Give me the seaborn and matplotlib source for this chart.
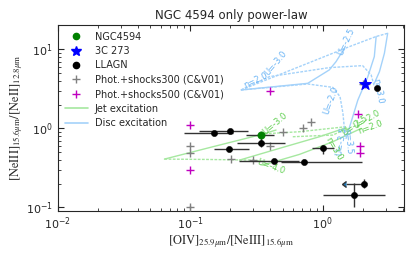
import matplotlib
matplotlib.use('Agg')
import matplotlib.pyplot as plt
from matplotlib.lines import Line2D
import seaborn as sns

# -------------------- Data --------------------

# NGC 4594 (green point, black x error)
ngc_x = [0.339]
ngc_y = [0.83]
ngc_xlo = [0.264]
ngc_xhi = [0.432]

# 3C 273 (blue star)
c3_x = [2.09]
c3_y = [3.6]
c3_xlo = [1.92]
c3_xhi = [2.29]
c3_ylo = [3.21]
c3_yhi = [3.97]

# LLAGN sample
llagn_x = [0.150, 0.198, 0.343, 0.196, 0.425, 0.728, 1.00, 2.57, 1.73]
llagn_y = [0.88, 0.925, 0.659, 0.547, 0.382, 0.371, 0.558, 3.21, 0.143]
llagn_xlo = [0.089, 0.117, 0.224, 0.152, 0.235, 0.485, 0.83, 2.57, 1.01]
llagn_xhi = [0.209, 0.272, 0.523, 0.277, 0.667, 1.98, 1.22, 2.57, 2.97]
llagn_ylo = [0.88, 0.925, 0.586, 0.547, 0.382, 0.371, 0.48, 3.21, 0.102]
llagn_yhi = [0.88, 0.925, 0.747, 0.547, 0.382, 0.371, 0.62, 3.21, 0.205]

# LLAGN with upper limit on x
lim_x = [2.06]
lim_y = [0.201]
lim_xerr = [0.56]
lim_ylo = [0.174]
lim_yhi = [0.226]

# Photoionisation + shocks models (Contini & Viegas 2001)
sh300_x = [0.1, 0.1, 0.1, 0.203, 0.30, 0.40, 0.505, 0.706, 0.82, 2.0]
sh300_y = [0.60, 0.49, 0.10, 0.406, 0.40, 0.60, 0.90, 1.02, 1.19, 3.6]
sh500_x = [0.1, 0.1, 0.40, 1.84, 1.90, 1.90]
sh500_y = [1.09, 0.30, 3.0, 1.50, 0.60, 0.49]

# Disc excitation grid: solid = constant n, dashed = constant U
disc_solid = [
    ([0.242, 0.770, 1.12, 1.26, 1.38, 1.46], [3.06, 3.71, 5.48, 6.98, 8.90, 10.0]),
    ([1.50, 1.84, 2.19, 2.45, 2.53], [0.747, 2.28, 4.51, 8.08, 14.5]),
    ([3.09, 2.92, 2.68, 2.45], [15.9, 8.90, 5.22, 3.71]),
]
disc_dashed = [
    ([0.242, 0.667, 1.59, 2.53, 3.09], [3.06, 6.04, 10.8, 14.5, 15.9]),
    ([0.242, 0.396, 1.12, 2.00, 2.32, 2.45], [3.06, 4.51, 5.86, 6.21, 4.73, 3.37]),
    ([0.242, 0.770, 1.19, 1.35, 1.42, 1.48], [3.06, 3.64, 3.30, 2.52, 1.55, 0.747]),
]
disc_labels = [
    ("n=2.0", 0.314, 4.09, 25),
    ("U=-3.0", 0.444, 6.65, 50),
    ("U=-2.5", 1.50, 12.5, 65),
    ("U=-2.0", 1.16, 2.28, 70),
    ("n=3.0", 2.63, 2.91, -80),
    ("U=-3.5", 1.37, 0.70, 80),
    ("n=3.5", 1.56, 0.68, -85),
]

# Jet excitation grid
jet_solid = [
    ([0.0638, 0.148, 0.339, 0.444], [0.409, 0.586, 0.831, 0.953]),
    ([0.235, 0.499, 0.944, 1.50], [0.397, 0.575, 0.784, 1.02]),
    ([0.352, 0.667, 1.19, 1.95], [0.343, 0.469, 0.678, 1.0]),
]
jet_dashed = [
    ([0.0638, 0.132, 0.296, 0.374], [0.409, 0.405, 0.397, 0.379]),
    ([0.339, 0.667, 1.50], [0.848, 0.907, 1.05]),
    ([0.594, 1.19, 1.54], [0.784, 0.823, 1.0]),
]
jet_labels = [
    ("U=-3.0", 0.432, 1.16, 40),
    ("U=-4.0", 0.407, 0.327, -20),
    ("n=3.0", 1.21, 0.558, -60),
    ("U=-2.5", 1.75, 1.10, 35),
    ("U=-2.0", 2.15, 1.30, 30),
    ("n=2.0", 2.30, 1.03, 20),
]

# -------------------- Plot --------------------

sns.set_style('ticks')
plt.rcParams['font.family'] = ['DejaVu Sans']

fig = plt.figure(figsize=(4.16, 2.57), dpi=100)
ax = fig.add_axes([0.139, 0.180, 0.832, 0.723])

jet_col = '#a6e8a0'
disc_col = '#a4d2fa'

for xs, ys in jet_solid:
    sns.lineplot(x=xs, y=ys, sort=False, estimator=None, color=jet_col, lw=1, ax=ax)
for xs, ys in jet_dashed:
    sns.lineplot(x=xs, y=ys, sort=False, estimator=None, color=jet_col, lw=1,
                 linestyle=(0, (2, 1)), ax=ax)
for xs, ys in disc_solid:
    sns.lineplot(x=xs, y=ys, sort=False, estimator=None, color=disc_col, lw=1, ax=ax)
for xs, ys in disc_dashed:
    sns.lineplot(x=xs, y=ys, sort=False, estimator=None, color=disc_col, lw=1,
                 linestyle=(0, (2, 1)), ax=ax)

for txt, x, y, rot in disc_labels:
    ax.text(x, y, txt, color='#6ab4f5', fontsize=6, rotation=rot,
            ha='center', va='center')
for txt, x, y, rot in jet_labels:
    ax.text(x, y, txt, color='#5fcf50', fontsize=6, rotation=rot,
            ha='center', va='center')

# shock models
sns.scatterplot(x=sh300_x, y=sh300_y, marker='+', color='gray', s=40,
                linewidth=1, ax=ax, zorder=3)
sns.scatterplot(x=sh500_x, y=sh500_y, marker='+', color='m', s=30,
                linewidth=1, ax=ax, zorder=3)

# LLAGN error bars
xerr = [[x - lo for x, lo in zip(llagn_x, llagn_xlo)],
        [hi - x for x, hi in zip(llagn_x, llagn_xhi)]]
yerr = [[y - lo for y, lo in zip(llagn_y, llagn_ylo)],
        [hi - y for y, hi in zip(llagn_y, llagn_yhi)]]
ax.errorbar(llagn_x, llagn_y, xerr=xerr, yerr=yerr, fmt='none',
            ecolor='0.2', elinewidth=1, zorder=4)
ax.errorbar(lim_x, lim_y, xerr=[lim_xerr], xuplims=True, fmt='none',
            ecolor='0.2', elinewidth=1, capsize=2, zorder=4)
ax.errorbar(lim_x, lim_y,
            yerr=[[lim_y[0] - lim_ylo[0]], [lim_yhi[0] - lim_y[0]]],
            fmt='none', ecolor='0.2', elinewidth=1, zorder=4)
sns.scatterplot(x=llagn_x + lim_x, y=llagn_y + lim_y, color='k', s=20,
                edgecolor='k', ax=ax, zorder=5)

# NGC 4594
ax.errorbar(ngc_x, ngc_y,
            xerr=[[ngc_x[0] - ngc_xlo[0]], [ngc_xhi[0] - ngc_x[0]]],
            fmt='none', ecolor='0.2', elinewidth=1, zorder=4)
sns.scatterplot(x=ngc_x, y=ngc_y, color='green', s=28, edgecolor='green',
                ax=ax, zorder=6)

# 3C 273
ax.errorbar(c3_x, c3_y,
            xerr=[[c3_x[0] - c3_xlo[0]], [c3_xhi[0] - c3_x[0]]],
            yerr=[[c3_y[0] - c3_ylo[0]], [c3_yhi[0] - c3_y[0]]],
            fmt='none', ecolor='gray', elinewidth=1, zorder=4)
sns.scatterplot(x=c3_x, y=c3_y, marker='*', color='blue', s=80,
                edgecolor='blue', ax=ax, zorder=6)

ax.set_xscale('log')
ax.set_yscale('log')
ax.set_xlim(0.01, 4.1)
ax.set_ylim(0.091, 20.3)

ax.tick_params(which='both', direction='in', top=True, right=True, labelsize=8)
ax.tick_params(which='major', length=4)
ax.tick_params(which='minor', length=2)
for sp in ax.spines.values():
    sp.set_linewidth(0.8)

ax.set_title('NGC 4594 only power-law', fontsize=8.5, pad=4)
ax.set_xlabel(r'$[\mathrm{OIV}]_{25.9\mu\mathrm{m}}/[\mathrm{NeIII}]_{15.6\mu\mathrm{m}}$',
              fontsize=9, math_fontfamily='stix', labelpad=1)
ax.set_ylabel(r'$[\mathrm{NeIII}]_{15.6\mu\mathrm{m}}/[\mathrm{NeII}]_{12.8\mu\mathrm{m}}$',
              fontsize=9, math_fontfamily='stix', labelpad=1)

handles = [
    Line2D([], [], marker='o', color='green', ls='none', ms=4.5),
    Line2D([], [], marker='*', color='blue', ls='none', ms=7),
    Line2D([], [], marker='o', color='k', ls='none', ms=4.5),
    Line2D([], [], marker='+', color='gray', ls='none', ms=5.5),
    Line2D([], [], marker='+', color='m', ls='none', ms=5.5),
    Line2D([], [], color=jet_col, lw=1.2),
    Line2D([], [], color=disc_col, lw=1.2),
]
labels = ['NGC4594', '3C 273', 'LLAGN', 'Phot.+shocks300 (C&V01)',
          'Phot.+shocks500 (C&V01)', 'Jet excitation', 'Disc excitation']
ax.legend(handles, labels, loc='upper left', frameon=False, fontsize=7,
          handlelength=2.4, labelspacing=0.45, borderaxespad=0.3,
          handletextpad=0.7)

fig.savefig('out.png', dpi=100)
